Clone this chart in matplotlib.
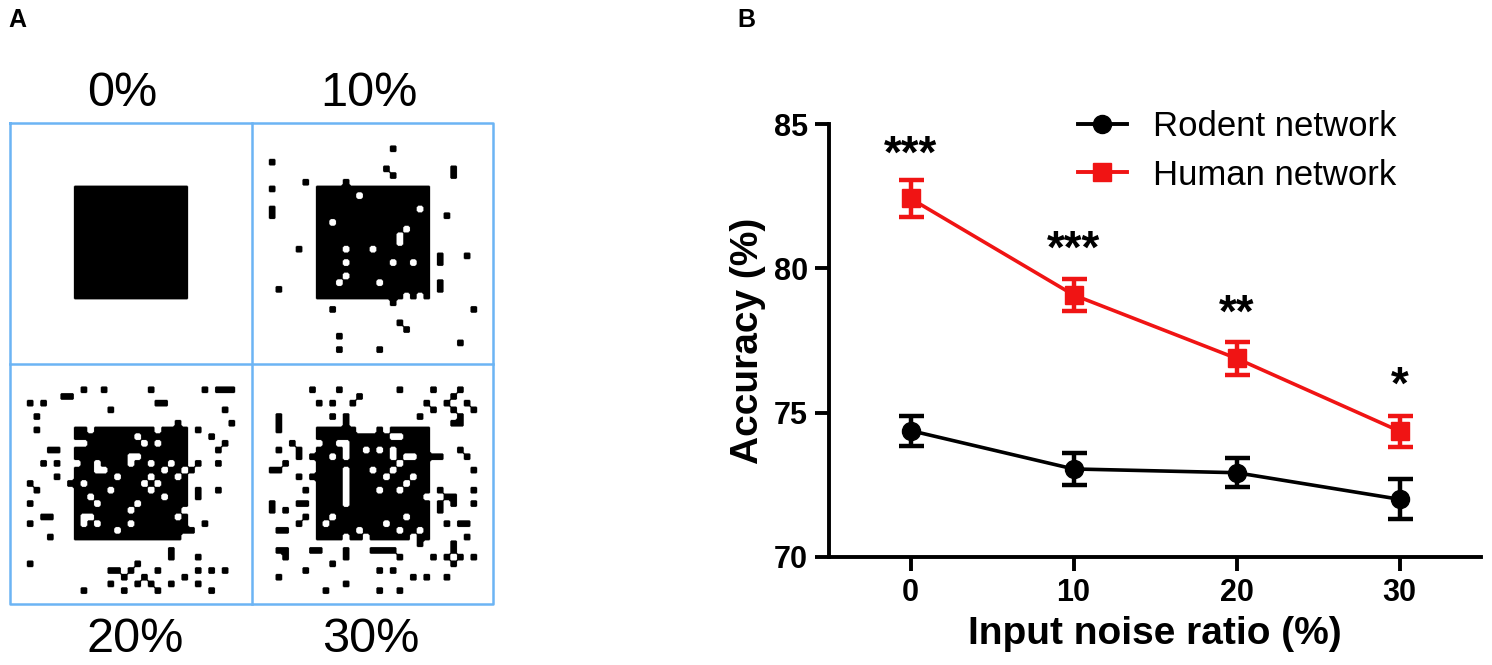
import numpy as np
import matplotlib
matplotlib.use('Agg')
import matplotlib.pyplot as plt
from matplotlib.patches import Rectangle
from matplotlib.lines import Line2D

plt.rcParams['font.family'] = ['Liberation Sans', 'DejaVu Sans']

# ---- panel A: noisy input patterns, (col, row) cells flipped against the base square ----
noise_labels = ['0%', '10%', '20%', '30%']
noise_0 = []
noise_10 = [(21, 4), (3, 6), (20, 7), (21, 8), (30, 7), (30, 8), (8, 9), (3, 10), (14, 9),
            (3, 13), (3, 14), (29, 14), (7, 19), (32, 20), (28, 20), (28, 21), (4, 25),
            (28, 24), (28, 25), (21, 27), (12, 28), (33, 28), (22, 30), (23, 31), (13, 32),
            (31, 33), (13, 34), (19, 34),
            (16, 11), (25, 13), (12, 15), (23, 16), (22, 17), (22, 18), (14, 19), (18, 19),
            (14, 21), (21, 21), (24, 21), (14, 23), (13, 24), (19, 24), (23, 26), (25, 26)]
noise_20 = [(11, 4), (14, 4), (21, 4), (29, 4), (31, 4), (32, 4), (33, 4), (8, 5), (9, 5),
            (3, 6), (5, 6), (22, 6), (23, 6), (15, 7), (32, 7), (4, 8), (33, 9), (25, 9),
            (4, 10), (28, 10), (30, 11), (32, 12), (6, 13), (7, 13), (31, 13), (5, 15),
            (7, 15), (28, 15), (31, 15), (27, 16), (7, 17), (3, 18), (9, 18), (4, 19),
            (28, 19), (31, 19), (28, 20), (3, 21), (5, 23), (6, 23), (3, 24), (29, 24),
            (27, 25), (6, 26), (24, 28), (24, 29), (28, 29), (3, 30), (19, 30), (15, 31),
            (16, 31), (18, 31), (22, 31), (28, 31), (30, 31), (32, 31), (17, 32), (20, 32),
            (26, 32), (15, 33), (19, 33), (21, 33), (24, 33), (28, 33), (11, 34), (17, 34),
            (22, 34), (30, 34),
            (12, 10), (22, 10), (10, 12), (11, 12), (19, 11), (20, 12), (22, 12), (18, 14),
            (19, 14), (18, 15), (13, 15), (13, 16), (14, 16), (10, 15), (21, 15), (24, 15),
            (23, 16), (26, 16), (16, 17), (25, 17), (21, 17), (20, 18), (22, 18), (21, 19),
            (11, 18), (15, 19), (12, 20), (23, 20), (13, 21), (19, 21), (18, 22), (11, 23),
            (12, 23), (11, 24), (13, 24), (18, 24), (16, 25), (25, 23), (26, 22), (26, 26)]
noise_30 = [(9, 4), (13, 4), (22, 4), (27, 4), (31, 4), (16, 5), (30, 5), (10, 6), (12, 6),
            (15, 6), (26, 6), (29, 6), (32, 6), (27, 7), (30, 7), (33, 7), (4, 8), (12, 8),
            (14, 8), (25, 8), (31, 8), (4, 9), (14, 9), (30, 9), (31, 9), (4, 10), (6, 12),
            (4, 13), (7, 13), (31, 13), (7, 14), (9, 14), (27, 14), (28, 14), (32, 14),
            (5, 15), (3, 16), (4, 16), (33, 16), (7, 17), (9, 17), (8, 19), (28, 19),
            (33, 19), (29, 20), (30, 20), (3, 21), (7, 21), (8, 21), (28, 21), (30, 21),
            (33, 21), (3, 22), (5, 22), (28, 22), (8, 23), (7, 24), (29, 24), (31, 24),
            (32, 24), (4, 25), (5, 25), (32, 26), (25, 27), (30, 27), (4, 28), (5, 28),
            (9, 28), (10, 28), (14, 28), (18, 28), (19, 28), (20, 28), (21, 28), (30, 28),
            (5, 29), (14, 29), (22, 29), (27, 29), (29, 29), (31, 29), (33, 29), (12, 30),
            (30, 30), (8, 31), (19, 31), (21, 31), (4, 32), (24, 32), (26, 32), (29, 32),
            (14, 33), (11, 34), (19, 34), (22, 34),
            (16, 10), (17, 10), (18, 10), (20, 10), (21, 11), (22, 11), (13, 12), (14, 12),
            (14, 13), (14, 14), (12, 14), (17, 13), (19, 13), (21, 13), (21, 14), (23, 14),
            (24, 14), (22, 15), (14, 16), (18, 16), (21, 16), (20, 17), (24, 17), (14, 17),
            (14, 18), (14, 19), (14, 20), (14, 21), (19, 19), (22, 19), (23, 18), (26, 20),
            (12, 23), (11, 24), (20, 24), (23, 23), (16, 25), (22, 25), (25, 25), (14, 26),
            (17, 26), (24, 26), (10, 12)]

# ---- panel B: accuracy vs input noise ----
noise_ratio = [0, 10, 20, 30]
rodent_mean = [74.38, 73.05, 72.92, 72.0]
rodent_err = [0.52, 0.55, 0.50, 0.70]
human_mean = [82.42, 79.08, 76.88, 74.36]
human_err = [0.64, 0.55, 0.58, 0.54]
stars = ['***', '***', '**', '*']
star_y = [83.50, 80.18, 77.97, 75.47]

W, H = 1492, 665
fig = plt.figure(figsize=(W / 100, H / 100), dpi=100)


def px_rect(x0, y0, x1, y1):
    return [x0 / W, 1 - y1 / H, (x1 - x0) / W, (y1 - y0) / H]


def soften(grid, up=10, k=5):
    # upsample the cell grid and round the corners like the scaled bitmap in the figure
    big = np.kron(grid, np.ones((up, up)))
    ker = np.ones(k) / k
    big = np.apply_along_axis(lambda v: np.convolve(v, ker, mode='same'), 0, big)
    big = np.apply_along_axis(lambda v: np.convolve(v, ker, mode='same'), 1, big)
    return (big > 0.47).astype(float)


axa = fig.add_axes(px_rect(10, 123, 493, 604))
origins = [(0, 0), (36, 0), (0, 36), (36, 36)]
for (qx, qy), flips in zip(origins, [noise_0, noise_10, noise_20, noise_30]):
    grid = np.zeros((37, 37))
    grid[10:27, 10:27] = 1
    for c, r in flips:
        grid[r, c] = 1 - grid[r, c]
    im = axa.imshow(soften(grid), cmap='gray_r', vmin=0, vmax=1, interpolation='antialiased',
                    extent=(qx - 0.5, qx + 36.5, qy + 36.5, qy - 0.5), aspect='auto')
    im.set_clip_path(Rectangle((qx, qy), 36, 36, transform=axa.transData))

blue = '#6cb4f4'
axa.plot([0, 72, 72, 0, 0], [0, 0, 72, 72, 0], color=blue, lw=1.8, clip_on=False)
axa.plot([36, 36], [0, 72], color=blue, lw=1.8, clip_on=False)
axa.plot([0, 72], [36, 36], color=blue, lw=1.8, clip_on=False)
axa.set_xlim(0, 72)
axa.set_ylim(72, 0)
axa.axis('off')

label_pos = [(122, 93), (369, 93), (135, 640), (371, 640)]
for (lx, ly), lab in zip(label_pos, noise_labels):
    fig.text(lx / W, 1 - ly / H, lab, fontsize=35, ha='center', va='center')

fig.text(8 / W, 1 - 8 / H, 'A', fontsize=18, fontweight='bold', va='top')
fig.text(737 / W, 1 - 8 / H, 'B', fontsize=18, fontweight='bold', va='top')

ax = fig.add_axes(px_rect(829, 124, 1481, 557))
red = '#f01414'
ax.errorbar(noise_ratio, rodent_mean, yerr=rodent_err, color='black', marker='o',
            markersize=13, linewidth=2.6, elinewidth=3.2, capsize=9, capthick=3.2,
            clip_on=False, zorder=3)
ax.errorbar(noise_ratio, human_mean, yerr=human_err, color=red, marker='s',
            markersize=13, linewidth=2.6, elinewidth=3.2, capsize=9, capthick=3.2,
            clip_on=False, zorder=3)
for xv, yv, s in zip(noise_ratio, star_y, stars):
    ax.text(xv, yv, s, fontsize=33, fontweight='bold', ha='center', va='baseline')

ax.set_xlim(-5, 35)
ax.set_ylim(70, 85)
ax.set_xticks(noise_ratio)
ax.set_yticks([70, 75, 80, 85])
for side in ['top', 'right']:
    ax.spines[side].set_visible(False)
for side in ['left', 'bottom']:
    ax.spines[side].set_linewidth(2.8)
ax.tick_params(direction='out', length=10, width=2.8, labelsize=22, pad=5)
for t in ax.get_xticklabels() + ax.get_yticklabels():
    t.set_fontweight('bold')
ax.set_xlabel('Input noise ratio (%)', fontsize=28, fontweight='bold', labelpad=6)
ax.set_ylabel('Accuracy (%)', fontsize=28, fontweight='bold', labelpad=6)

handles = [Line2D([], [], color='black', marker='o', markersize=13, lw=2.8),
           Line2D([], [], color=red, marker='s', markersize=13, lw=2.8)]
ax.legend(handles, ['Rodent network', 'Human network'], loc='upper left',
          bbox_to_anchor=(1078 / W, 1 - 110 / H), bbox_transform=fig.transFigure,
          frameon=False, fontsize=25, handlelength=1.4, handletextpad=0.75,
          labelspacing=0.45, borderpad=0, borderaxespad=0)

fig.savefig('out.png', dpi=100)
